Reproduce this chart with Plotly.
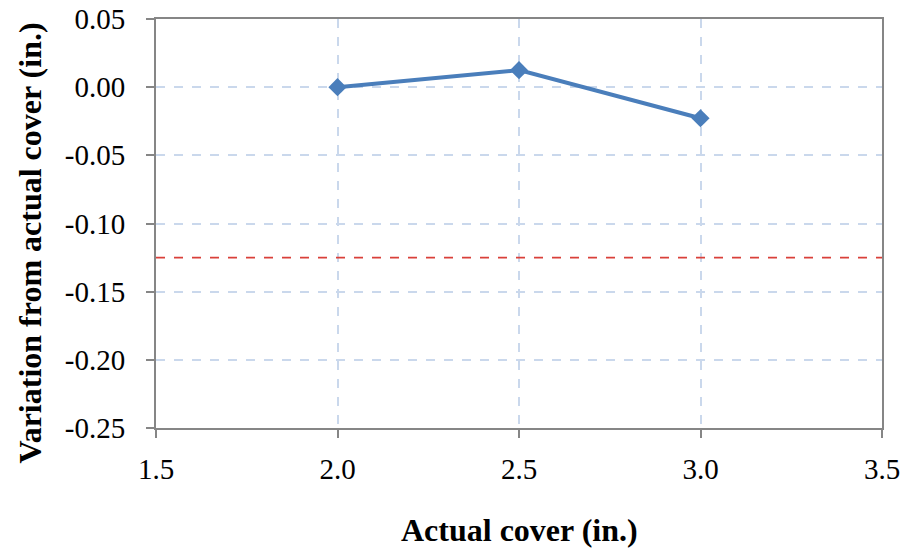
import plotly.graph_objects as go

actual_cover = [2.0, 2.5, 3.0]
variation = [0.0, 0.0125, -0.0228]
tolerance_limit = -0.125

x_ticks = [1.5, 2.0, 2.5, 3.0, 3.5]
y_ticks = [0.05, 0.0, -0.05, -0.10, -0.15, -0.20, -0.25]

x_title = "<b>Actual cover (in.)</b>"
y_title = "<b>Variation from actual cover (in.)</b>"

font_family = "Liberation Serif, Times New Roman, serif"

fig = go.Figure()
fig.add_trace(go.Scatter(
    x=actual_cover, y=variation, mode="lines+markers",
    line=dict(color="#4a7ebb", width=4),
    marker=dict(symbol="diamond", size=14, color="#4a7ebb"),
    showlegend=False,
))
fig.add_hline(y=tolerance_limit, line=dict(color="#d9403a", width=1.6, dash="dash"))

fig.update_layout(
    width=906, height=550,
    margin=dict(l=156, r=24, t=19, b=122),
    paper_bgcolor="white", plot_bgcolor="white",
    font=dict(family=font_family, size=29, color="black"),
)
common = dict(
    showline=True, linecolor="#868686", linewidth=2, mirror=True,
    ticks="outside", ticklen=8, tickcolor="#868686", tickwidth=2,
    showgrid=True, gridcolor="#cad8ec", griddash="dash", gridwidth=1.5,
    zeroline=False, automargin=False, ticklabeloverflow="allow",
    tickfont=dict(family=font_family, size=29, color="black"),
)
fig.update_xaxes(
    range=[1.5, 3.5], tickvals=x_ticks, ticktext=[f"{v:.1f}" for v in x_ticks],
    ticklabelstandoff=6, **common,
)
fig.update_yaxes(
    range=[-0.25, 0.05], tickvals=y_ticks, ticktext=[f"{v:.2f}" for v in y_ticks],
    ticklabelstandoff=15, **common,
)
fig.add_annotation(
    text=x_title, xref="paper", yref="paper", x=0.5, y=0, yshift=-102,
    showarrow=False, xanchor="center", yanchor="middle",
    font=dict(family=font_family, size=32, color="black"),
)
fig.add_annotation(
    text=y_title, xref="paper", yref="paper", x=0, y=0.5, xshift=-127, yshift=-20,
    textangle=-90, showarrow=False, xanchor="center", yanchor="middle",
    font=dict(family=font_family, size=32, color="black"),
)
fig.write_html(
    "out.html",
    config={"displayModeBar": False},
    post_script="document.body.style.margin='0';document.body.style.overflow='hidden';",
)
